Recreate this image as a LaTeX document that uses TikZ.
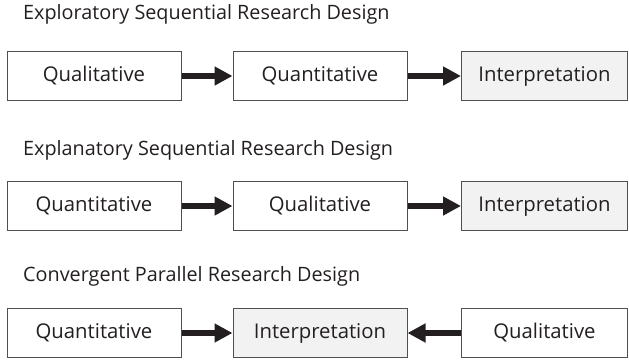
\documentclass[tikz,border=0pt]{standalone}
\usepackage{fontspec}
\setmainfont{Open Sans}
\usetikzlibrary{arrows.meta}
\definecolor{boxline}{HTML}{505050}
\definecolor{interp}{HTML}{F2F2F3}
\definecolor{arrowc}{HTML}{231F20}
\begin{document}
\begin{tikzpicture}[x=1pt,y=1pt,
  stagebox/.style={draw=boxline, line width=1pt, fill=white, minimum height=49pt, inner sep=0pt, font=\fontsize{20.3}{24}\selectfont, text=arrowc},
  interpbox/.style={stagebox, fill=interp},
  title/.style={anchor=base west, inner sep=0pt, font=\fontsize{19.8}{23}\selectfont, text=arrowc},
  flow/.style={draw=arrowc, line width=6.5pt, -{Triangle[length=18pt,width=18pt]}}
]
\useasboundingbox (0,0) rectangle (629,360);
% row 1
\node[title] (t1) at (23,341) {Exploratory Sequential Research Design};
\node[stagebox, minimum width=174pt] (r1a) at (94,284) {Qualitative};
\node[stagebox, minimum width=174pt] (r1b) at (320,284) {Quantitative};
\node[interpbox, minimum width=166pt, anchor=west] (r1c) at (461,284) {Interpretation};
\draw[flow] (r1a.east) -- (r1b.west);
\draw[flow] (r1b.east) -- (r1c.west);
% row 2
\node[title] (t2) at (23,205) {Explanatory Sequential Research Design};
\node[stagebox, minimum width=174pt] (r2a) at (94,154) {Quantitative};
\node[stagebox, minimum width=174pt] (r2b) at (320,154) {Qualitative};
\node[interpbox, minimum width=166pt, anchor=west] (r2c) at (461,154) {Interpretation};
\draw[flow] (r2a.east) -- (r2b.west);
\draw[flow] (r2b.east) -- (r2c.west);
% row 3
\node[title] (t3) at (23,79) {Convergent Parallel Research Design};
\node[stagebox, minimum width=174pt] (r3a) at (94,27) {Quantitative};
\node[interpbox, minimum width=174pt] (r3b) at (320,27) {Interpretation};
\node[stagebox, minimum width=166pt, anchor=west] (r3c) at (461,27) {Qualitative};
\draw[flow] (r3a.east) -- (r3b.west);
\draw[flow] (r3c.west) -- (r3b.east);
\end{tikzpicture}
\end{document}
